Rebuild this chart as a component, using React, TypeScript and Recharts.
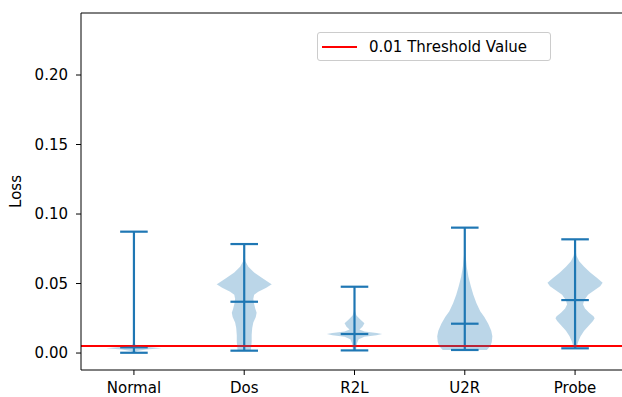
import React from 'react';
import { ScatterChart, Scatter, XAxis, YAxis, ReferenceLine, Legend } from 'recharts';

const categories = ['Normal', 'Dos', 'R2L', 'U2R', 'Probe'];
const positions = [1, 2, 3, 4, 5];
const mins = [0.0002, 0.0017, 0.0019, 0.0022, 0.0034];
const maxs = [0.0873, 0.0784, 0.0477, 0.0902, 0.0818];
const medians = [0.0041, 0.0369, 0.0137, 0.0211, 0.0381];

// [loss value, relative density (1 = widest)]
const normalProfile: [number, number][] = [
  [0.0873, 0], [0.02, 0.002], [0.008, 0.01], [0.0055, 0.07], [0.0045, 0.44],
  [0.0035, 1], [0.0025, 0.44], [0.0015, 0.11], [0.0002, 0.02],
];
const dosProfile: [number, number][] = [
  [0.0784, 0], [0.072, 0.01], [0.066, 0.04], [0.062, 0.15], [0.058, 0.36],
  [0.054, 0.65], [0.05, 0.95], [0.0494, 1], [0.047, 0.8], [0.044, 0.51],
  [0.042, 0.36], [0.039, 0.33], [0.036, 0.35], [0.032, 0.4], [0.029, 0.45],
  [0.026, 0.42], [0.022, 0.33], [0.018, 0.29], [0.013, 0.27], [0.008, 0.27],
  [0.004, 0.25], [0.0017, 0.24],
];
const r2lProfile: [number, number][] = [
  [0.0477, 0], [0.035, 0.01], [0.03, 0.02], [0.027, 0.07], [0.024, 0.22],
  [0.0215, 0.36], [0.019, 0.29], [0.017, 0.18], [0.0155, 0.36], [0.0145, 0.8],
  [0.0137, 1], [0.0128, 0.8], [0.0118, 0.36], [0.01, 0.15], [0.007, 0.09],
  [0.004, 0.07], [0.0019, 0.05],
];
const u2rProfile: [number, number][] = [
  [0.0902, 0], [0.08, 0.01], [0.07, 0.03], [0.062, 0.07], [0.055, 0.13],
  [0.048, 0.22], [0.042, 0.31], [0.036, 0.42], [0.03, 0.56], [0.026, 0.71],
  [0.021, 0.85], [0.016, 0.96], [0.012, 1], [0.008, 0.98], [0.005, 0.93],
  [0.0022, 0.8],
];
const probeProfile: [number, number][] = [
  [0.0818, 0], [0.075, 0.01], [0.07, 0.05], [0.066, 0.15], [0.062, 0.33],
  [0.058, 0.55], [0.054, 0.8], [0.0506, 1], [0.048, 0.91], [0.045, 0.69],
  [0.042, 0.47], [0.038, 0.33], [0.035, 0.29], [0.032, 0.36], [0.029, 0.51],
  [0.0265, 0.67], [0.025, 0.71], [0.023, 0.65], [0.02, 0.51], [0.016, 0.33],
  [0.012, 0.2], [0.008, 0.11], [0.005, 0.07], [0.0034, 0.05],
];
const profiles = [normalProfile, dosProfile, r2lProfile, u2rProfile, probeProfile];

const yTicks = [0, 0.05, 0.1, 0.15, 0.2];
const yDomain: [number, number] = [-0.0122, 0.2446];
const xDomain: [number, number] = [0.52, 5.48];
const threshold = 0.005;
const thresholdLabel = '0.01 Threshold Value';
const yLabel = 'Loss';

const HALF_WIDTH = 0.25;
const CAP_HALF = 0.125;
const BLUE = '#1f77b4';
const FONT = 'DejaVu Sans, sans-serif';

function outline(pos: number, profile: [number, number][]) {
  const right = profile.map(([v, d]) => ({ x: pos + d * HALF_WIDTH, y: v }));
  const left = [...profile].reverse().map(([v, d]) => ({ x: pos - d * HALF_WIDTH, y: v }));
  return [...right, ...left];
}

const ViolinFill = (props: any) => {
  const pts = props.points || [];
  if (!pts.length) return <g />;
  const d = pts.map((p: any, i: number) => `${i ? 'L' : 'M'}${p.x},${p.y}`).join(' ') + ' Z';
  return <path d={d} fill={BLUE} fillOpacity={0.3} stroke="none" />;
};

const LegendBox = () => (
  <div
    style={{
      width: 232,
      height: 27,
      border: '1px solid #cccccc',
      borderRadius: 3,
      background: '#fff',
      display: 'flex',
      alignItems: 'center',
      fontFamily: FONT,
      fontSize: 15,
      color: '#000',
    }}
  >
    <span style={{ display: 'inline-block', width: 35, height: 2, background: '#ff0000', marginLeft: 4 }} />
    <span style={{ marginLeft: 12, whiteSpace: 'nowrap' }}>{thresholdLabel}</span>
  </div>
);

export default function App() {
  const lineProps = { stroke: BLUE, strokeWidth: 2.2, ifOverflow: 'visible' as const };
  return (
    <div style={{ position: 'absolute', left: 0, top: 0, width: 622, height: 397, overflow: 'hidden', background: '#fff' }}>
      <ScatterChart width={640} height={397} margin={{ top: 13, right: 12, bottom: 0, left: 0 }}>
        <XAxis
          dataKey="x"
          type="number"
          domain={xDomain}
          allowDataOverflow
          ticks={positions}
          tickFormatter={(v: number) => categories[v - 1] ?? ''}
          height={27}
          tickSize={5}
          tickMargin={7.5}
          stroke="#000"
          tick={{ fill: '#000', fontSize: 15, fontFamily: FONT }}
          interval={0}
        />
        <YAxis
          dataKey="y"
          type="number"
          domain={yDomain}
          allowDataOverflow
          ticks={yTicks}
          tickFormatter={(v: number) => v.toFixed(2)}
          width={81}
          tickSize={5}
          tickMargin={8}
          stroke="#000"
          tick={{ fill: '#000', fontSize: 15, fontFamily: FONT }}
          interval={0}
          label={{
            value: yLabel,
            angle: -90,
            position: 'insideLeft',
            offset: 16,
            style: { textAnchor: 'middle', fill: '#000', fontSize: 15, fontFamily: FONT },
          }}
        />
        {profiles.map((p, i) => (
          <Scatter
            key={categories[i]}
            name={categories[i]}
            data={outline(positions[i], p)}
            shape={() => <g />}
            line={ViolinFill}
            isAnimationActive={false}
            legendType="none"
          />
        ))}
        {positions.map((pos, i) => (
          <ReferenceLine key={`stem-${i}`} segment={[{ x: pos, y: mins[i] }, { x: pos, y: maxs[i] }]} {...lineProps} />
        ))}
        {positions.map((pos, i) => (
          <ReferenceLine key={`min-${i}`} segment={[{ x: pos - CAP_HALF, y: mins[i] }, { x: pos + CAP_HALF, y: mins[i] }]} {...lineProps} />
        ))}
        {positions.map((pos, i) => (
          <ReferenceLine key={`max-${i}`} segment={[{ x: pos - CAP_HALF, y: maxs[i] }, { x: pos + CAP_HALF, y: maxs[i] }]} {...lineProps} />
        ))}
        {positions.map((pos, i) => (
          <ReferenceLine key={`med-${i}`} segment={[{ x: pos - CAP_HALF, y: medians[i] }, { x: pos + CAP_HALF, y: medians[i] }]} {...lineProps} />
        ))}
        <ReferenceLine y={threshold} stroke="#ff0000" strokeWidth={2} ifOverflow="visible" />
        <ReferenceLine y={yDomain[1]} stroke="#000" strokeWidth={1} ifOverflow="visible" />
        <Legend
          layout="horizontal"
          verticalAlign="middle"
          align="center"
          content={() => <LegendBox />}
          wrapperStyle={{ left: 317, top: 32, width: 234, height: 29 }}
        />
      </ScatterChart>
    </div>
  );
}
